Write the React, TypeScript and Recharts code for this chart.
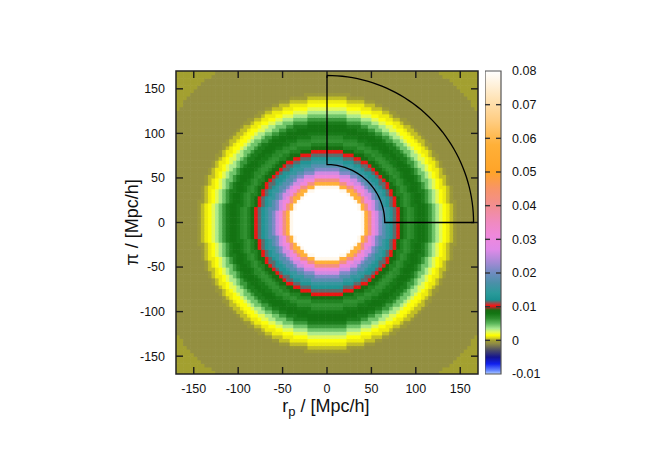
import React from "react";
import { ScatterChart, Scatter, XAxis, YAxis, ReferenceArea, Label } from "recharts";

const FONT = "'Liberation Sans', Arial, Helvetica, sans-serif";

// axis ticks
const axisTicks = [-150, -100, -50, 0, 50, 100, 150];
const axisDomain = [-170, 170];
const cbTicks = [-0.01, 0, 0.01, 0.02, 0.03, 0.04, 0.05, 0.06, 0.07, 0.08];
const cbDomain = [-0.01, 0.08];

// xi(s), one value every 4 Mpc/h starting at s = 0
const radialStep = 4;
const xiProfile = [
  0.3, 0.28, 0.25, 0.21, 0.18, 0.15, 0.13, 0.115, 0.1, 0.09,
  0.078, 0.058, 0.042, 0.031, 0.026, 0.021, 0.018, 0.015, 0.013, 0.0115,
  0.0101, 0.0086, 0.0072, 0.0064, 0.0068, 0.0077, 0.0082, 0.0081, 0.0075, 0.0061,
  0.0046, 0.0034, 0.0024, 0.0016, 0.0011, 0.0004, -0.0004, -0.0008, -0.0008, -0.0008,
  -0.0008, -0.0008, -0.0008, -0.0008, -0.0008, -0.0008, -0.0008, -0.0008, -0.0008, -0.0008,
  -0.0008, -0.0008, -0.0008, 0, 0, 0, 0, 0, 0, 0, 0,
];

// centres of the (rp, pi) grid cells
const gridStep = 4;
const gridCentres = Array.from({ length: 85 }, (_, i) => -168 + i * gridStep);

// colour palette (colour box)
const paletteValues = [
  -0.01, -0.009, -0.007, -0.005, -0.003, -0.001, 0, 0.0007, 0.0015, 0.0025,
  0.0035, 0.005, 0.0065, 0.008, 0.009, 0.0097, 0.0102, 0.011, 0.012, 0.014,
  0.017, 0.02, 0.023, 0.027, 0.031, 0.035, 0.04, 0.045, 0.05, 0.058,
  0.065, 0.072, 0.08,
];
const paletteColors = [
  "#b4d0ff", "#6688ff", "#1020f0", "#141490", "#4a4a66", "#8f8b45", "#a3a030", "#d8d41c", "#ffff00", "#e0f860",
  "#a8e890", "#5cb85c", "#2e8e2e", "#137513", "#1a6a12", "#993322", "#ff1010", "#a04848", "#1a9090", "#2a9a9a",
  "#4a90a8", "#6e8cc0", "#a28ad4", "#e08ae8", "#ef88dc", "#f08ac0", "#f28e90", "#f89468", "#ffa428", "#ffb038",
  "#ffcc80", "#ffe4b8", "#ffffff",
];

// s-range of the wedge drawn on top
const wedgeRadii = [65, 165];
const wedgeAngles = Array.from({ length: 46 }, (_, i) => i * 2);

const PLOT_W = 302;
const CELL_PX = (gridStep * PLOT_W) / (axisDomain[1] - axisDomain[0]);

const hexToRgb = (h: string) => [1, 3, 5].map((i) => parseInt(h.slice(i, i + 2), 16));

const colourFor = (v: number) => {
  if (v <= paletteValues[0]) return paletteColors[0];
  const last = paletteValues.length - 1;
  if (v >= paletteValues[last]) return paletteColors[last];
  let i = 0;
  while (paletteValues[i + 1] < v) i++;
  const t = (v - paletteValues[i]) / (paletteValues[i + 1] - paletteValues[i]);
  const a = hexToRgb(paletteColors[i]);
  const b = hexToRgb(paletteColors[i + 1]);
  const c = a.map((ch, k) => Math.round(ch + (b[k] - ch) * t));
  return `rgb(${c[0]},${c[1]},${c[2]})`;
};

const cells = gridCentres.flatMap((x) =>
  gridCentres.map((y) => {
    const s = Math.sqrt(x * x + y * y);
    const idx = Math.min(xiProfile.length - 1, Math.round(s / radialStep));
    return { x, y, fill: colourFor(xiProfile[idx]) };
  })
);

const toRad = (a: number) => (a * Math.PI) / 180;
const outerArc = [...wedgeAngles].reverse().map((a) => ({
  x: wedgeRadii[1] * Math.cos(toRad(a)),
  y: wedgeRadii[1] * Math.sin(toRad(a)),
}));
const innerArc = wedgeAngles.map((a) => ({
  x: wedgeRadii[0] * Math.cos(toRad(a)),
  y: wedgeRadii[0] * Math.sin(toRad(a)),
}));
const wedge = [...outerArc, ...innerArc, outerArc[0]];

// inward tick marks on all four sides (dx, dy = direction into the plot)
const [lo, hi] = axisDomain;
const tickMarks = axisTicks.flatMap((t) => [
  { x: t, y: lo, dx: 0, dy: -1 },
  { x: t, y: hi, dx: 0, dy: 1 },
  { x: lo, y: t, dx: 1, dy: 0 },
  { x: hi, y: t, dx: -1, dy: 0 },
]);
const cbTickMarks = cbTicks.slice(1, -1).flatMap((t) => [
  { x: 0, y: t, dx: 1, dy: 0 },
  { x: 1, y: t, dx: -1, dy: 0 },
]);

// two corners of the colour box, so the colour-box charts have a series
const cbCorners = [
  { x: 0, y: cbDomain[0] },
  { x: 1, y: cbDomain[1] },
];

const cellShape = (props: any) => {
  const { cx, cy, payload } = props;
  return (
    <rect
      x={cx - CELL_PX / 2}
      y={cy - CELL_PX / 2}
      width={CELL_PX + 0.6}
      height={CELL_PX + 0.6}
      fill={payload.fill}
      stroke="none"
    />
  );
};

const tickShape = (len: number, colour: string, w: number) => (props: any) => {
  const { cx, cy, payload } = props;
  return (
    <line
      x1={cx}
      y1={cy}
      x2={cx + payload.dx * len}
      y2={cy + payload.dy * len}
      stroke={colour}
      strokeWidth={w}
    />
  );
};

const tickText = { fill: "#111", fontSize: 12.5, fontFamily: FONT };

const XTitle = ({ viewBox }: any) => (
  <text
    x={viewBox.x + viewBox.width / 2 - 1}
    y={viewBox.y + 38}
    textAnchor="middle"
    fontSize={18}
    fontFamily={FONT}
    fill="#111"
  >
    r
    <tspan fontSize={13} dy={4}>
      p
    </tspan>
    <tspan dy={-4}> / [Mpc/h]</tspan>
  </text>
);

const YTitle = ({ viewBox }: any) => {
  const cx = viewBox.x + 2;
  const cy = viewBox.y + viewBox.height / 2;
  return (
    <text
      x={cx}
      y={cy}
      transform={`rotate(-90, ${cx}, ${cy})`}
      textAnchor="middle"
      fontSize={18}
      fontFamily={FONT}
      fill="#111"
    >
      π / [Mpc/h]
    </text>
  );
};

const cbLabel = (v: number) => (Math.abs(v) < 1e-9 ? "0" : v.toFixed(2));

const layer: React.CSSProperties = { position: "absolute", top: 0 };

export default function App() {
  const span = cbDomain[1] - cbDomain[0];
  return (
    <div style={{ position: "relative", width: 646, height: 450, background: "#fff" }}>
      {/* heat map */}
      <div style={{ ...layer, left: 0 }}>
        <ScatterChart width={646} height={450} margin={{ top: 63, right: 176, bottom: 84, left: 168 }}>
          <XAxis type="number" dataKey="x" domain={axisDomain} allowDataOverflow hide />
          <YAxis type="number" dataKey="y" domain={axisDomain} allowDataOverflow hide />
          <Scatter data={cells} shape={cellShape} isAnimationActive={false} />
        </ScatterChart>
      </div>
      {/* frame, ticks, labels and wedge */}
      <div style={{ ...layer, left: 0 }}>
        <ScatterChart width={646} height={450} margin={{ top: 63, right: 176, bottom: 54, left: 128 }}>
          <XAxis
            type="number"
            dataKey="x"
            domain={axisDomain}
            ticks={axisTicks}
            allowDataOverflow
            height={30}
            tickSize={-7}
            tickMargin={17}
            axisLine={false}
            tickLine={false}
            tick={tickText}
          >
            <Label content={XTitle} />
          </XAxis>
          <YAxis
            type="number"
            dataKey="y"
            domain={axisDomain}
            ticks={axisTicks}
            allowDataOverflow
            width={40}
            tickSize={-7}
            tickMargin={18}
            axisLine={false}
            tickLine={false}
            tick={tickText}
          >
            <Label content={YTitle} />
          </YAxis>
          <ReferenceArea
            x1={lo}
            x2={hi}
            y1={lo}
            y2={hi}
            fill="none"
            stroke="#222"
            strokeWidth={1.5}
            ifOverflow="visible"
          />
          <Scatter data={tickMarks} shape={tickShape(7, "#1a1a1a", 1.4)} isAnimationActive={false} />
          <Scatter
            data={wedge}
            line={{ stroke: "#000", strokeWidth: 1.3 }}
            lineType="joint"
            shape={() => <g />}
            isAnimationActive={false}
          />
        </ScatterChart>
      </div>
      {/* colour box fill */}
      <div style={{ ...layer, left: 477 }}>
        <ScatterChart width={70} height={450} margin={{ top: 63, right: 54, bottom: 84, left: 0 }}>
          <defs>
            <linearGradient id="cbGrad" x1="0" y1="0" x2="0" y2="1">
              {paletteValues
                .map((v, i) => ({ v, c: paletteColors[i] }))
                .reverse()
                .map(({ v, c }) => (
                  <stop key={v} offset={(cbDomain[1] - v) / span} stopColor={c} />
                ))}
            </linearGradient>
          </defs>
          <XAxis type="number" dataKey="x" domain={[0, 1]} hide />
          <YAxis type="number" dataKey="y" domain={cbDomain} hide />
          <Scatter data={cbCorners} shape={() => <g />} isAnimationActive={false} />
          <ReferenceArea
            x1={0}
            x2={1}
            y1={cbDomain[0]}
            y2={cbDomain[1]}
            fill="url(#cbGrad)"
            fillOpacity={1}
            stroke="#555"
            strokeWidth={1.2}
            ifOverflow="visible"
          />
        </ScatterChart>
      </div>
      {/* colour box ticks and labels */}
      <div style={{ ...layer, left: 477 }}>
        <ScatterChart width={70} height={450} margin={{ top: 63, right: 14, bottom: 84, left: 0 }}>
          <XAxis type="number" dataKey="x" domain={[0, 1]} hide />
          <YAxis
            orientation="right"
            type="number"
            dataKey="y"
            domain={cbDomain}
            ticks={cbTicks}
            width={40}
            tickSize={-4}
            tickMargin={15}
            axisLine={false}
            tickLine={false}
            tick={{ ...tickText, textAnchor: "start" }}
            tickFormatter={cbLabel}
          />
          <Scatter data={cbTickMarks} shape={tickShape(5, "#333", 1.4)} isAnimationActive={false} />
        </ScatterChart>
      </div>
    </div>
  );
}
